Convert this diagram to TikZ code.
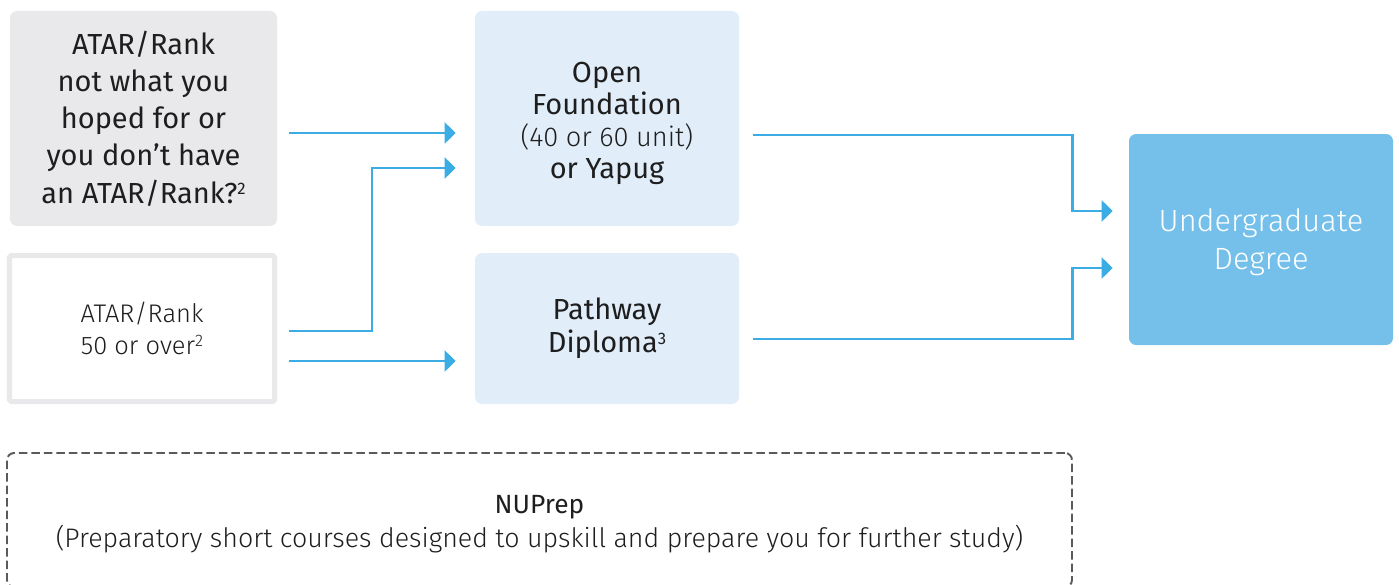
\documentclass[tikz,border=0pt]{standalone}
\usepackage{fontspec}
\setmainfont{Fira Sans}
\newfontfamily\lightfont{Fira Sans Light}
\usetikzlibrary{arrows.meta}
\definecolor{boxgrey}{HTML}{E9E9EB}
\definecolor{paleblue}{HTML}{E1EEFA}
\definecolor{degblue}{HTML}{74C0EB}
\definecolor{flowblue}{HTML}{3BADE4}
\definecolor{dashgrey}{HTML}{5A5A5A}
\definecolor{ink}{HTML}{1E1E1E}
\newcommand\supnum[1]{\raisebox{0.3em}{\fontsize{9.5}{9.5}\selectfont#1}}

\begin{document}
\begin{tikzpicture}[
  box/.style={rectangle, rounded corners=4pt, align=center, text=ink, inner sep=0pt},
  boxtext/.style={align=center, text=ink, inner sep=0pt},
  flow/.style={draw=flowblue, line width=1.4pt, shorten <=0.24cm,
    -{Triangle[length=0.22cm,width=0.42cm]}},
]
\useasboundingbox (0,0) rectangle (27.98,11.68);

% left column
\node[box, fill=boxgrey, minimum width=5.34cm, minimum height=4.30cm,
  font=\fontsize{16.5}{21.2}\selectfont] (hoped) at (2.87,9.31)
  {ATAR/Rank\\not what you\\hoped for or\\you don’t have\\an ATAR/Rank?\supnum{2}};
\node[box, draw=boxgrey, line width=0.1cm, fill=white, rounded corners=1pt,
  minimum width=5.30cm, minimum height=2.92cm,
  font=\lightfont\fontsize{14.5}{18.1}\selectfont] (over) at (2.84,5.11)
  {ATAR/Rank\\50 or over\supnum{2}};

% middle column
\node[box, fill=paleblue, minimum width=5.28cm, minimum height=4.30cm] (open) at (12.14,9.31) {};
\node[boxtext, font=\fontsize{16.5}{18.2}\selectfont] (opentext) at ([yshift=-0.1cm]open.center)
  {Open\\Foundation\\{\lightfont\fontsize{15.5}{18.2}\selectfont(40 or 60 unit)}\\or Yapug};
\node[box, fill=paleblue, minimum width=5.28cm, minimum height=3.02cm,
  font=\fontsize{16.5}{19}\selectfont] (pathway) at (12.14,5.11)
  {Pathway\\Diploma\supnum{3}};

% right column
\node[box, fill=degblue, minimum width=5.28cm, minimum height=4.22cm] (degree) at (25.22,6.89) {};
\node[boxtext, text=white, font=\lightfont\fontsize{17.5}{21.5}\selectfont] (degreetext)
  at ([yshift=-0.06cm]degree.center) {Undergraduate\\Degree};

% bottom
\node[box, draw=dashgrey, line width=1.1pt, dash pattern=on 0.17cm off 0.08cm,
  minimum width=21.30cm, minimum height=2.68cm] (nuprep) at (10.79,1.28) {};
\node[boxtext, font=\fontsize{15}{19}\selectfont] (nupreptext) at ([yshift=-0.08cm]nuprep.center)
  {NUPrep\\{\lightfont\fontsize{15.25}{19}\selectfont(Preparatory short courses designed to upskill and prepare you for further study)}};

\draw[flow, shorten >=0.38cm] ([yshift=-0.29cm]hoped.east) -- ([yshift=-0.29cm]open.west);
\draw[flow, shorten >=0.38cm] ([yshift=-0.05cm]over.east) -- ++(1.9,0) |- ([yshift=-0.99cm]open.west);
\draw[flow, shorten >=0.38cm] ([yshift=-0.65cm]over.east) -- ([yshift=-0.65cm]pathway.west);
\draw[flow, shorten <=0.28cm, shorten >=0.32cm] ([yshift=-0.33cm]open.east) -- ++(6.66,0) |- ([yshift=0.57cm]degree.west);
\draw[flow, shorten <=0.28cm, shorten >=0.32cm] ([yshift=-0.21cm]pathway.east) -- ++(6.66,0) |- ([yshift=-0.57cm]degree.west);
\end{tikzpicture}
\end{document}
